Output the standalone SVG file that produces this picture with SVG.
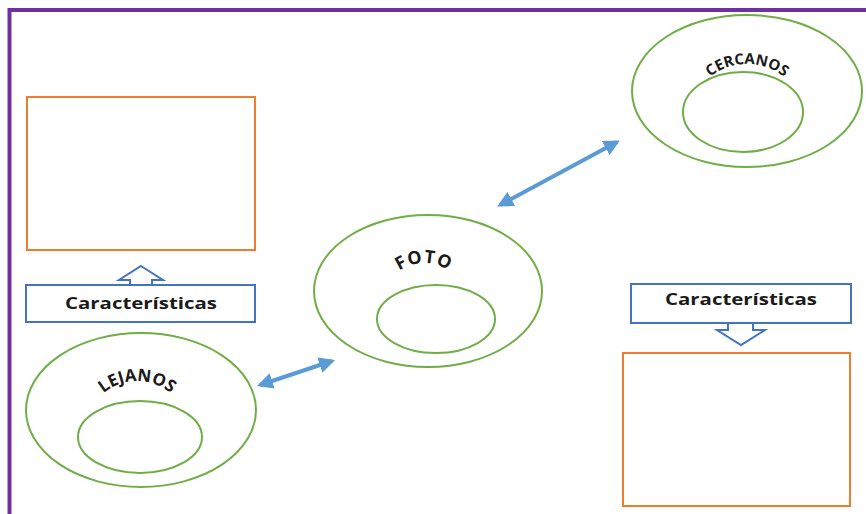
<svg xmlns="http://www.w3.org/2000/svg" width="866" height="514" viewBox="0 0 866 514">
<defs>
<style>
.ring{fill:none;stroke:#70AD47;stroke-width:2}
.box{fill:#fff;stroke:#ED7D31;stroke-width:2}
.lbl{fill:#fff;stroke:#4472C4;stroke-width:2}
.conn{stroke:#5B9BD5;stroke-width:4;fill:none;marker-start:url(#ah);marker-end:url(#ah)}
.arc{font-family:"Open Sans","Liberation Sans",sans-serif;font-weight:bold;fill:#1a1a1a}
.t{font-family:"Open Sans","Liberation Sans",sans-serif;font-weight:bold;font-size:16px;fill:#1a1a1a;text-anchor:middle}
</style>
<marker id="ah" viewBox="0 0 10 10" refX="8" refY="5" markerWidth="4" markerHeight="4" orient="auto-start-reverse" markerUnits="strokeWidth">
<path d="M0,0 L10,5 L0,10 Z" fill="#5B9BD5"/>
</marker>
<path id="pC" d="M 687 124 A 60 60 0 0 1 807 124"/>
<path id="pF" d="M 381 306 A 43 43 0 0 1 467 306"/>
<path id="pL" d="M 85 433 A 52 52 0 0 1 189 433"/>
</defs>
<path d="M 9.5 514 V 10 H 866" fill="none" stroke="#7030A0" stroke-width="4"/>
<g id="cercanos">
<ellipse class="ring" cx="747" cy="91" rx="115" ry="76"/>
<ellipse class="ring" cx="743" cy="112" rx="60" ry="40"/>
<text class="arc" font-size="15"><textPath href="#pC" startOffset="50%" text-anchor="middle">CERCANOS</textPath></text>
</g>
<g id="foto">
<ellipse class="ring" cx="428" cy="291" rx="114" ry="76"/>
<ellipse class="ring" cx="436" cy="319" rx="59" ry="34"/>
<text class="arc" font-size="18" letter-spacing="1"><textPath href="#pF" startOffset="50%" text-anchor="middle">FOTO</textPath></text>
</g>
<g id="lejanos">
<ellipse class="ring" cx="141" cy="410" rx="115" ry="77"/>
<ellipse class="ring" cx="140" cy="437" rx="62" ry="36"/>
<text class="arc" font-size="17"><textPath href="#pL" startOffset="50%" text-anchor="middle">LEJANOS</textPath></text>
</g>
<g id="box-left">
<rect class="box" x="27" y="97" width="228" height="153"/>
</g>
<g id="carac-left">
<polygon class="lbl" points="141,266 163,280 152,280 152,285 130,285 130,280 119,280"/>
<rect class="lbl" x="26" y="285" width="229" height="37"/>
<text class="t" x="141" y="309" textLength="152" lengthAdjust="spacingAndGlyphs">Características</text>
</g>
<g id="carac-right">
<polygon class="lbl" points="728,323 753,323 753,330 765,330 741,345 717,330 728,330"/>
<rect class="lbl" x="631" y="284" width="220" height="39"/>
<text class="t" x="741" y="305" textLength="152" lengthAdjust="spacingAndGlyphs">Características</text>
</g>
<g id="box-right">
<rect class="box" x="623" y="353" width="227" height="153"/>
</g>
<g id="connectors">
<line class="conn" x1="500" y1="205" x2="617" y2="142"/>
<line class="conn" x1="260" y1="385" x2="332" y2="361"/>
</g>
</svg>
